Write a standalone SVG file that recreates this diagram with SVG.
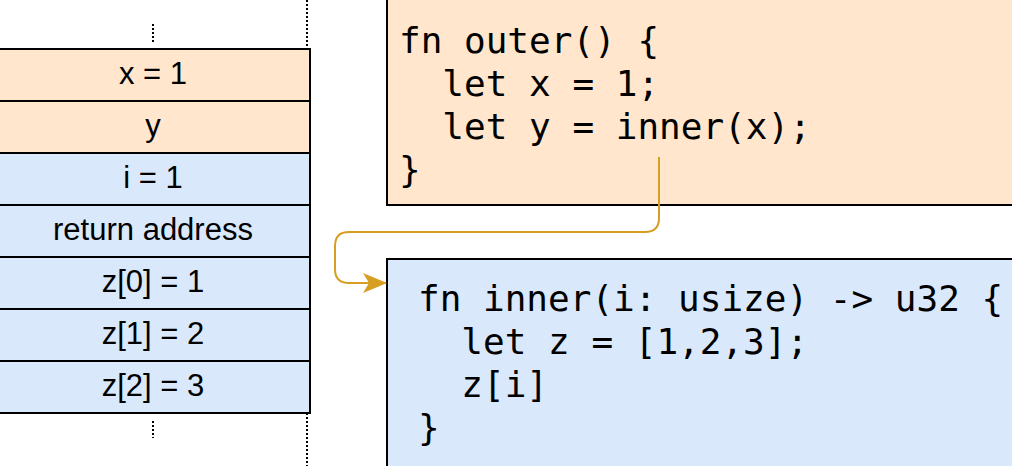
<svg xmlns="http://www.w3.org/2000/svg" width="1012" height="466" viewBox="0 0 1012 466">
<style>
.orange{fill:#FFE6CC;stroke:#000;stroke-width:2}
.blue{fill:#DAE8FC;stroke:#000;stroke-width:2}
.lbl{font-family:"Liberation Sans",Arial,sans-serif;font-size:31px;fill:#000;text-anchor:middle}
.code{font-family:"DejaVu Sans Mono",monospace;font-size:36px;fill:#000;white-space:pre}
.dots{stroke:#000;stroke-width:2;stroke-dasharray:2 2;fill:none}
.conn{stroke:#D89E22;stroke-width:2;fill:none}
</style>
<defs>
<marker id="arr" markerWidth="24" markerHeight="20" refX="23" refY="10" orient="auto" markerUnits="userSpaceOnUse" viewBox="0 0 24 20">
<path d="M0,0 L24,10 L0,20 L6,10 Z" fill="#D89E22"/>
</marker>
</defs>
<g id="stack-guides">
<line class="dots" x1="307" y1="0" x2="307" y2="49"/>
<line class="dots" x1="307" y1="413" x2="307" y2="466"/>
<line class="dots" x1="153" y1="24" x2="153" y2="43"/>
<line class="dots" x1="153" y1="421" x2="153" y2="438"/>
</g>
<g id="cell-x"><rect class="orange" x="-10" y="49" width="320" height="52"/><text class="lbl" x="153" y="84">x = 1</text></g>
<g id="cell-y"><rect class="orange" x="-10" y="101" width="320" height="52"/><text class="lbl" x="153" y="136">y</text></g>
<g id="cell-i"><rect class="blue" x="-10" y="153" width="320" height="52"/><text class="lbl" x="153" y="188">i = 1</text></g>
<g id="cell-ret"><rect class="blue" x="-10" y="205" width="320" height="52"/><text class="lbl" x="153" y="240">return address</text></g>
<g id="cell-z0"><rect class="blue" x="-10" y="257" width="320" height="52"/><text class="lbl" x="153" y="292">z[0] = 1</text></g>
<g id="cell-z1"><rect class="blue" x="-10" y="309" width="320" height="52"/><text class="lbl" x="153" y="344">z[1] = 2</text></g>
<g id="cell-z2"><rect class="blue" x="-10" y="361" width="320" height="52"/><text class="lbl" x="153" y="396">z[2] = 3</text></g>
<g id="outer">
<rect class="orange" x="387" y="-10" width="640" height="215"/>
<text class="code" xml:space="preserve" x="399" y="53">fn outer() {</text>
<text class="code" xml:space="preserve" x="399" y="96">  let x = 1;</text>
<text class="code" xml:space="preserve" x="399" y="139">  let y = inner(x);</text>
<text class="code" xml:space="preserve" x="399" y="182">}</text>
</g>
<g id="inner">
<rect class="blue" x="387" y="259" width="640" height="220"/>
<text class="code" xml:space="preserve" x="418" y="311">fn inner(i: usize) -&gt; u32 {</text>
<text class="code" xml:space="preserve" x="418" y="354">  let z = [1,2,3];</text>
<text class="code" xml:space="preserve" x="418" y="397">  z[i]</text>
<text class="code" xml:space="preserve" x="418" y="440">}</text>
</g>
<g id="connectors">
<path class="conn" d="M659,157 L659,218 Q659,232 645,232 L349,232 Q335,232 335,246 L335,269 Q335,283 349,283 L386,283" marker-end="url(#arr)"/>
</g>
</svg>
